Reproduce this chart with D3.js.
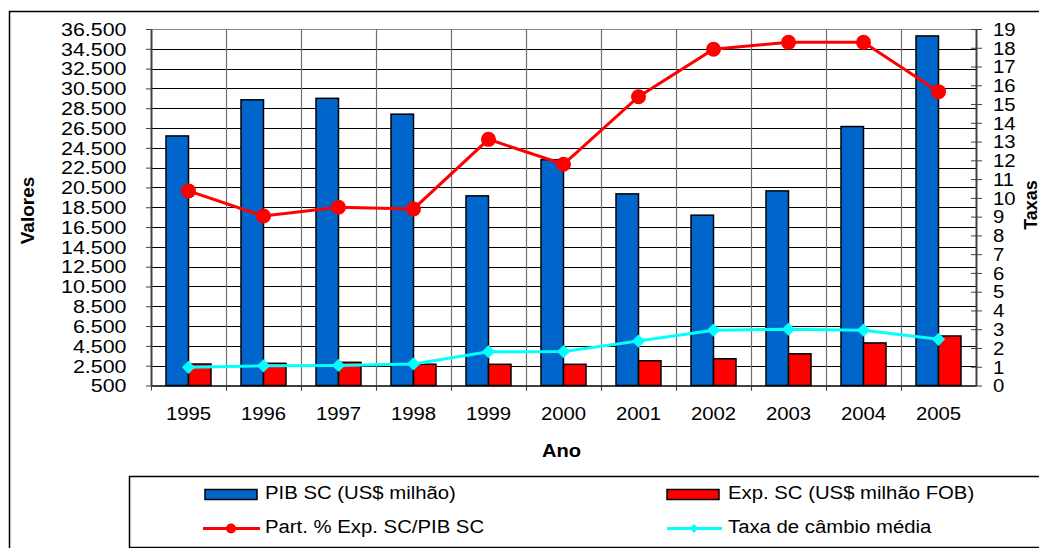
<!DOCTYPE html>
<html>
<head>
<meta charset="utf-8">
<script src="https://cdn.jsdelivr.net/npm/d3@7"></script>
<style>
  body { margin: 0; background: #fff; }
  svg text { font-family: "Liberation Sans", Arial, sans-serif; fill: #000; }
</style>
</head>
<body>
<svg id="imagen" width="1039" height="548"></svg>
<script>
// dados
const anos = ["1995", "1996", "1997", "1998", "1999", "2000", "2001", "2002", "2003", "2004", "2005"];
const pibSC = [25700, 29350, 29500, 27900, 19650, 23300, 19850, 17700, 20150, 26650, 35800];
const expSC = [2670, 2740, 2840, 2650, 2640, 2640, 3000, 3200, 3700, 4800, 5500];
const partExp = [10.37, 9.03, 9.5, 9.41, 13.12, 11.79, 15.39, 17.92, 18.29, 18.29, 15.66];
const taxaCambio = [0.97, 1.05, 1.07, 1.15, 1.8, 1.81, 2.37, 2.95, 3.0, 2.95, 2.46];
const ticksValores = d3.range(500, 36501, 2000);
const ticksTaxas = d3.range(0, 20, 1);
const nomes = ["PIB SC (US$ milhão)", "Exp. SC (US$ milhão FOB)", "Part. % Exp. SC/PIB SC", "Taxa de câmbio média"];

const svg = d3.select("#imagen");
const margin = { top: 29, right: 63, bottom: 163, left: 151 };
const sx = 1.13; // texto do original aparece esticado na horizontal

const fmt = d3.formatLocale({ decimal: ",", thousands: ".", grouping: [3], currency: ["", ""] }).format(",");

// moldura externa
svg.append("rect")
  .attr("x", 9.5).attr("y", 11.5)
  .attr("width", 1200).attr("height", 700)
  .attr("fill", "none").attr("stroke", "#000").attr("stroke-width", 1.5);

const x = d3.scaleBand()
  .domain(anos)
  .range([margin.left, 976]);

const y = d3.scaleLinear()
  .domain([500, 36500])
  .range([385.5, margin.top]);

const y2 = d3.scaleLinear()
  .domain([0, 19])
  .range([385.5, margin.top]);

const barW = x.bandwidth() * 0.3;

// grade horizontal
svg.append("g")
  .selectAll("line")
  .data(ticksValores.slice(1))
  .join("line")
  .attr("x1", x.range()[0]).attr("x2", x.range()[1])
  .attr("y1", d => Math.round(y(d)) + 0.5).attr("y2", d => Math.round(y(d)) + 0.5)
  .attr("stroke", d => d === 36500 ? "#888" : "#000")
  .attr("stroke-width", 1);

// grade vertical
svg.append("g")
  .selectAll("line")
  .data(anos.slice(1))
  .join("line")
  .attr("x1", d => Math.round(x(d)) + 0.5).attr("x2", d => Math.round(x(d)) + 0.5)
  .attr("y1", y.range()[1]).attr("y2", y.range()[0] + 5)
  .attr("stroke", "#707070")
  .attr("stroke-width", 1.2);

// barras
const grupos = svg.append("g")
  .selectAll("g")
  .data(anos)
  .join("g")
  .attr("transform", d => `translate(${x(d) + x.bandwidth() / 2},0)`);

grupos.append("rect")
  .attr("x", -barW)
  .attr("y", (d, i) => y(pibSC[i]))
  .attr("width", barW)
  .attr("height", (d, i) => y(500) - y(pibSC[i]))
  .attr("fill", "#0066CC")
  .attr("stroke", "#000").attr("stroke-width", 1.5);

grupos.append("rect")
  .attr("x", 0)
  .attr("y", (d, i) => y(expSC[i]))
  .attr("width", barW)
  .attr("height", (d, i) => y(500) - y(expSC[i]))
  .attr("fill", "#FF0000")
  .attr("stroke", "#000").attr("stroke-width", 1.5);

// eixos
const xAxis = g => g
  .attr("transform", `translate(0,${y.range()[0]})`)
  .call(d3.axisBottom(x).tickSize(0).tickPadding(0))
  .call(g => g.select(".domain").attr("stroke", "#000").attr("stroke-width", 1.5))
  .call(g => g.selectAll(".tick text")
    .attr("y", 0).attr("dy", 0)
    .attr("font-size", 18)
    .attr("transform", `translate(0,34.5) scale(${sx},1)`));

const yAxis = g => g
  .attr("transform", `translate(${margin.left},0)`)
  .call(d3.axisLeft(y).tickValues(ticksValores).tickFormat(fmt).tickSize(5).tickSizeOuter(0))
  .call(g => g.select(".domain").attr("stroke", "#404040").attr("stroke-width", 2))
  .call(g => g.selectAll(".tick line").attr("stroke", "#404040"))
  .call(g => g.selectAll(".tick text")
    .attr("x", 0).attr("dy", "0.35em")
    .attr("font-size", 18)
    .attr("transform", `translate(-24.5,0) scale(1.19,1)`));

const y2Axis = g => g
  .attr("transform", `translate(976,0)`)
  .call(d3.axisRight(y2).tickValues(ticksTaxas).tickSize(6).tickSizeOuter(0))
  .call(g => g.select(".domain").attr("stroke", "#404040").attr("stroke-width", 2))
  .call(g => g.selectAll(".tick line").attr("x1", -5).attr("stroke", "#404040"))
  .call(g => g.selectAll(".tick text")
    .attr("x", 0).attr("dy", "0.35em")
    .attr("font-size", 18)
    .attr("transform", `translate(17,0) scale(${sx},1)`));

svg.append("g").call(xAxis);
svg.append("g").call(yAxis);
svg.append("g").call(y2Axis);

// ticks do eixo x nos limites das categorias
svg.append("g")
  .selectAll("line")
  .data(anos)
  .join("line")
  .attr("x1", d => Math.round(x(d)) + 0.5).attr("x2", d => Math.round(x(d)) + 0.5)
  .attr("y1", y.range()[0]).attr("y2", y.range()[0] + 5)
  .attr("stroke", "#404040");

// linhas
const cx = d => x(d) + x.bandwidth() / 2;

const linha = d3.line()
  .x((d, i) => cx(anos[i]))
  .y(d => y2(d));

svg.append("path")
  .datum(partExp)
  .attr("d", linha)
  .attr("fill", "none")
  .attr("stroke", "#FF0000")
  .attr("stroke-width", 3);

svg.append("g")
  .selectAll("circle")
  .data(partExp)
  .join("circle")
  .attr("cx", (d, i) => cx(anos[i]))
  .attr("cy", d => y2(d))
  .attr("r", 7.5)
  .attr("fill", "#FF0000");

svg.append("path")
  .datum(taxaCambio)
  .attr("d", linha)
  .attr("fill", "none")
  .attr("stroke", "#00FFFF")
  .attr("stroke-width", 3);

const diamante = d3.symbol().type(d3.symbolDiamond2).size(112);

svg.append("g")
  .selectAll("path")
  .data(taxaCambio)
  .join("path")
  .attr("d", diamante)
  .attr("transform", (d, i) => `translate(${cx(anos[i])},${y2(d)})`)
  .attr("fill", "#00FFFF");

// títulos dos eixos
svg.append("text")
  .attr("transform", `translate(561.5,456.5) scale(1.06,1)`)
  .attr("text-anchor", "middle")
  .attr("font-size", 19)
  .attr("font-weight", "bold")
  .text("Ano");

svg.append("text")
  .attr("transform", "translate(33.5,210.5) rotate(-90)")
  .attr("text-anchor", "middle")
  .attr("font-size", 19)
  .attr("font-weight", "bold")
  .text("Valores");

svg.append("text")
  .attr("transform", "translate(1036.5,205) rotate(-90)")
  .attr("text-anchor", "middle")
  .attr("font-size", 18)
  .attr("font-weight", "bold")
  .text("Taxas");

// legenda
svg.append("rect")
  .attr("x", 129.5).attr("y", 476.5)
  .attr("width", 1000).attr("height", 71)
  .attr("fill", "#fff")
  .attr("stroke", "#000").attr("stroke-width", 1.5);

const legenda = svg.append("g");
const posLeg = [[205, 498.5], [667, 498.5], [205, 533], [667, 533]];

legenda.selectAll("text")
  .data(nomes)
  .join("text")
  .attr("transform", (d, i) => `translate(${posLeg[i][0] + (i % 2 ? 61 : 60)},${posLeg[i][1]}) scale(${sx},1)`)
  .attr("font-size", 18)
  .text(d => d);

legenda.append("rect")
  .attr("x", 205).attr("y", 489.5).attr("width", 52).attr("height", 10)
  .attr("fill", "#0066CC").attr("stroke", "#000").attr("stroke-width", 1.5);
legenda.append("rect")
  .attr("x", 667).attr("y", 489.5).attr("width", 52).attr("height", 10)
  .attr("fill", "#FF0000").attr("stroke", "#000").attr("stroke-width", 1.5);

legenda.append("line")
  .attr("x1", 203).attr("x2", 260).attr("y1", 528.5).attr("y2", 528.5)
  .attr("stroke", "#FF0000").attr("stroke-width", 3);
legenda.append("circle")
  .attr("cx", 231).attr("cy", 528.5).attr("r", 5)
  .attr("fill", "#FF0000");

legenda.append("line")
  .attr("x1", 667).attr("x2", 722).attr("y1", 528.5).attr("y2", 528.5)
  .attr("stroke", "#00FFFF").attr("stroke-width", 3);
legenda.append("path")
  .attr("d", d3.symbol().type(d3.symbolDiamond2).size(50))
  .attr("transform", "translate(694,528.5)")
  .attr("fill", "#00FFFF");
</script>
</body>
</html>
